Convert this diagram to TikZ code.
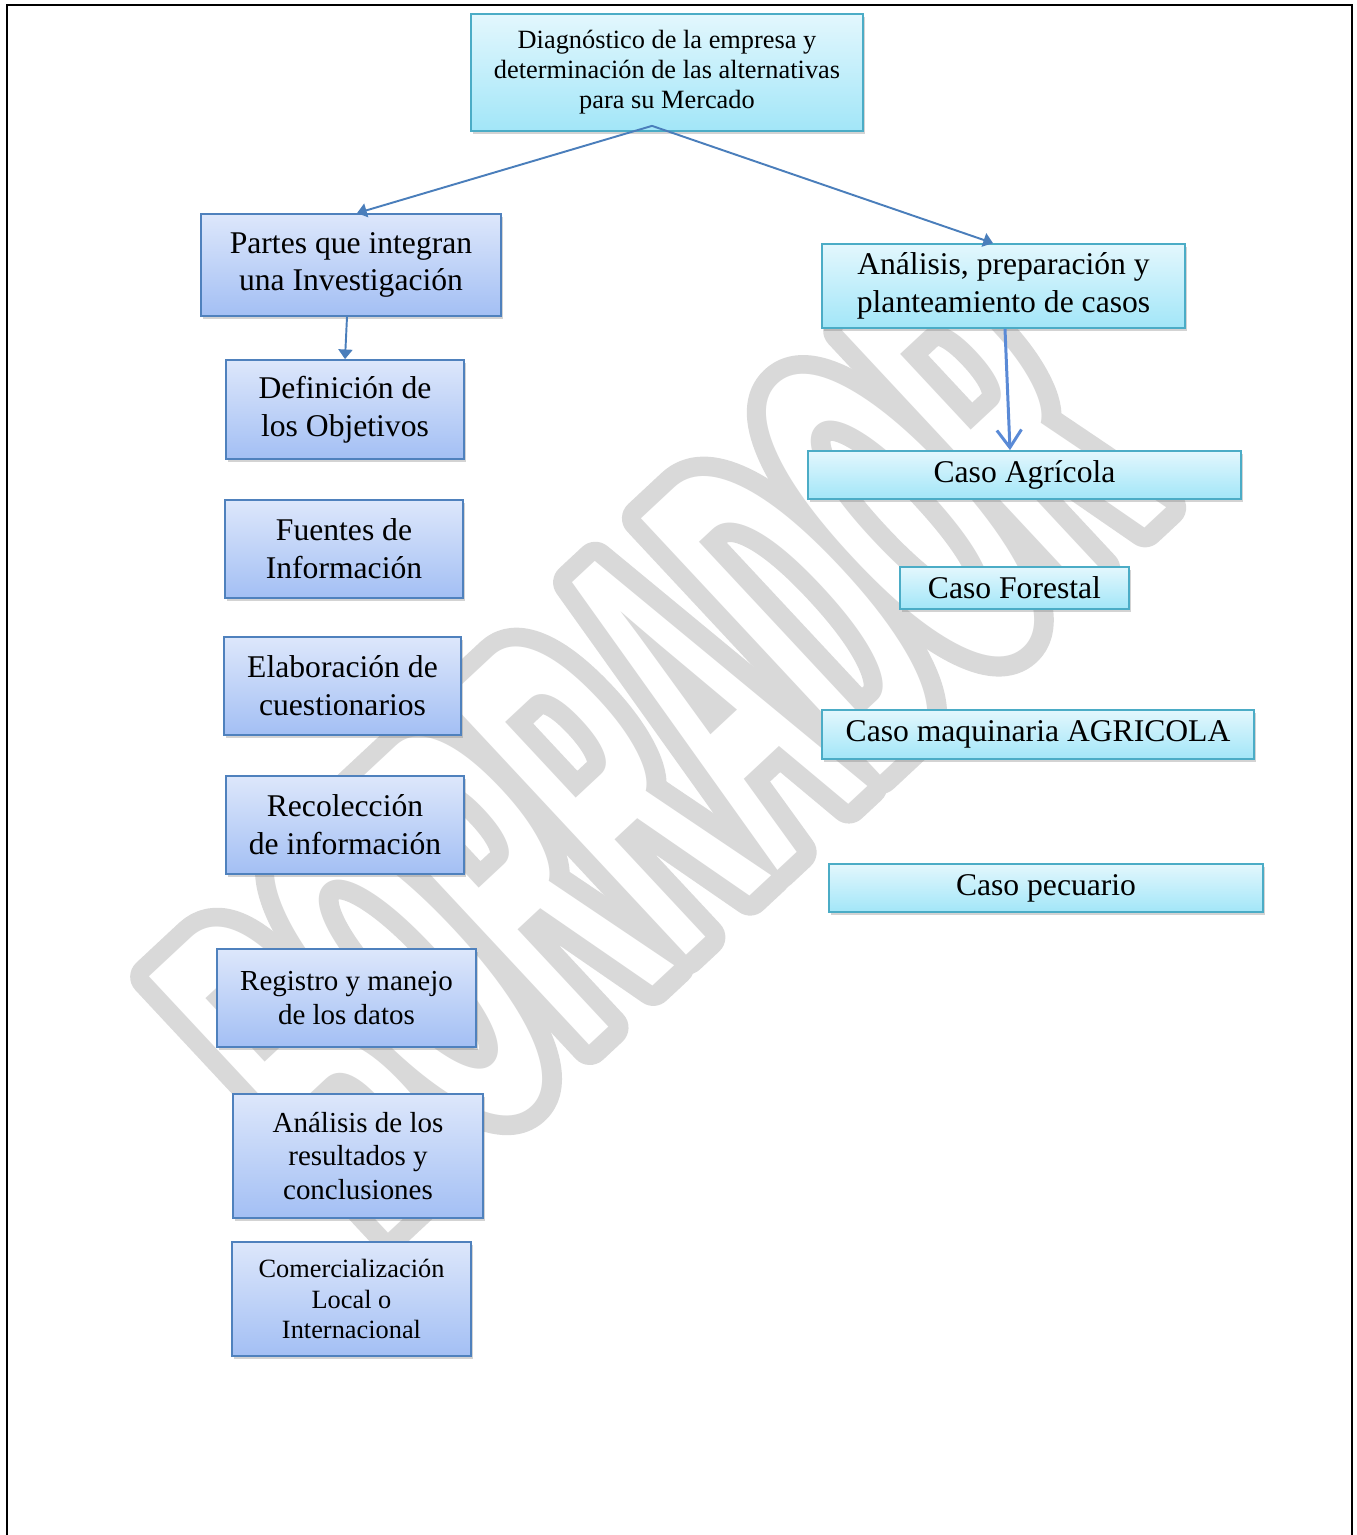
\documentclass[tikz,border=0pt]{standalone}
\usepackage{fontspec}
\setmainfont{Liberation Serif}
\newfontfamily\marcafont[FakeStretch=0.36]{Liberation Sans}
\usetikzlibrary{arrows.meta,shadows}

\definecolor{azulclaro}{HTML}{DDE7FB}
\definecolor{azulfondo}{HTML}{A3BFF4}
\definecolor{azulborde}{HTML}{4F81BD}
\definecolor{celesteclaro}{HTML}{E3F7FD}
\definecolor{celestefondo}{HTML}{A2E6F8}
\definecolor{celesteborde}{HTML}{4BACC6}
\definecolor{flechaazul}{HTML}{4A7EBB}
\definecolor{flechaclara}{HTML}{5A8AD6}

\begin{document}
\begin{tikzpicture}[x=0.02cm,y=-0.02cm,thick,
    parte node/.style={draw=azulborde,line width=1pt,top color=azulclaro,bottom color=azulfondo,align=center,inner sep=2pt,font=\fontsize{18}{21.5}\selectfont,drop shadow={shadow xshift=1.2pt,shadow yshift=-1.8pt,opacity=0.35}},
    caso node/.style={parte node,draw=celesteborde,top color=celesteclaro,bottom color=celestefondo},
    marca node/.style={rotate=43,inner sep=0pt,font=\marcafont\fontsize{290}{290}\selectfont\bfseries},
    flecha/.style={-{Triangle[length=5.5pt,width=8pt]},draw=flechaazul,line width=1.1pt},
    flecha abierta/.style={-{Straight Barb[length=10pt,width=14pt]},draw=flechaclara,line width=1.7pt}]
\useasboundingbox (0,0) rectangle (1356,1535);

% marca de agua: contorno gris, letra blanca encima
\node[marca node] (marcaborde) at (655,745) {\special{pdf:literal direct 1 Tr 22 w 1 j 0.85 G}BORRADOR\special{pdf:literal direct 0 Tr}};
\node[marca node,text=white] (marca) at (marcaborde) {BORRADOR};

% marco
\draw[line width=1.2pt] (7,1535) -- (7,5) -- (1352,5) -- (1352,1535);

\node[caso node,minimum width=7.84cm,minimum height=2.34cm,font=\fontsize{15}{17}\selectfont] (1) at (667,72.5) {Diagnóstico de la empresa y\\determinación de las alternativas\\para su Mercado};

\node[parte node,minimum width=6cm,minimum height=2.04cm] (2) at (351,265) {Partes que integran\\una Investigación};
\node[caso node,minimum width=7.26cm,minimum height=1.68cm] (3) at (1003.5,286) {Análisis, preparación y\\planteamiento de casos};

\node[parte node,minimum width=4.76cm,minimum height=1.98cm] (4) at (345,409.5) {Definición de\\los Objetivos};
\node[parte node,minimum width=4.76cm,minimum height=1.96cm] (5) at (344,549) {Fuentes de\\Información};
\node[parte node,minimum width=4.74cm,minimum height=1.96cm] (6) at (342.5,686) {Elaboración de\\cuestionarios};
\node[parte node,minimum width=4.76cm,minimum height=1.96cm] (7) at (345,825) {Recolección\\de información};
\node[parte node,minimum width=5.18cm,minimum height=1.96cm,font=\fontsize{16.5}{19.3}\selectfont] (8) at (346.5,998) {Registro y manejo\\de los datos};
\node[parte node,minimum width=5cm,minimum height=2.48cm,font=\fontsize{16.5}{19.3}\selectfont] (9) at (358,1156) {Análisis de los\\resultados y\\conclusiones};
\node[parte node,minimum width=4.78cm,minimum height=2.28cm,font=\fontsize{15}{17.6}\selectfont] (10) at (351.5,1299) {Comercialización\\Local o\\Internacional};

\node[caso node,minimum width=8.66cm,minimum height=0.96cm] (11) at (1024.5,475) {Caso Agrícola};
\node[caso node,minimum width=4.58cm,minimum height=0.84cm] (12) at (1014.5,588) {Caso Forestal};
\node[caso node,minimum width=8.64cm,minimum height=0.98cm] (13) at (1038,734.5) {Caso maquinaria AGRICOLA};
\node[caso node,minimum width=8.68cm,minimum height=0.96cm] (14) at (1046,888) {Caso pecuario};

\path
    ([xshift=-0.3cm,yshift=0.12cm]1.south) edge[flecha] ([xshift=0.12cm]2.north)
    ([xshift=-0.3cm,yshift=0.12cm]1.south) edge[flecha] ([xshift=-0.21cm]3.north)
    ([xshift=-0.08cm]2.south) edge[flecha] (4.north)
    ([xshift=0.03cm]3.south) edge[flecha abierta] ([xshift=-0.29cm]11.north)
;
\end{tikzpicture}
\end{document}
